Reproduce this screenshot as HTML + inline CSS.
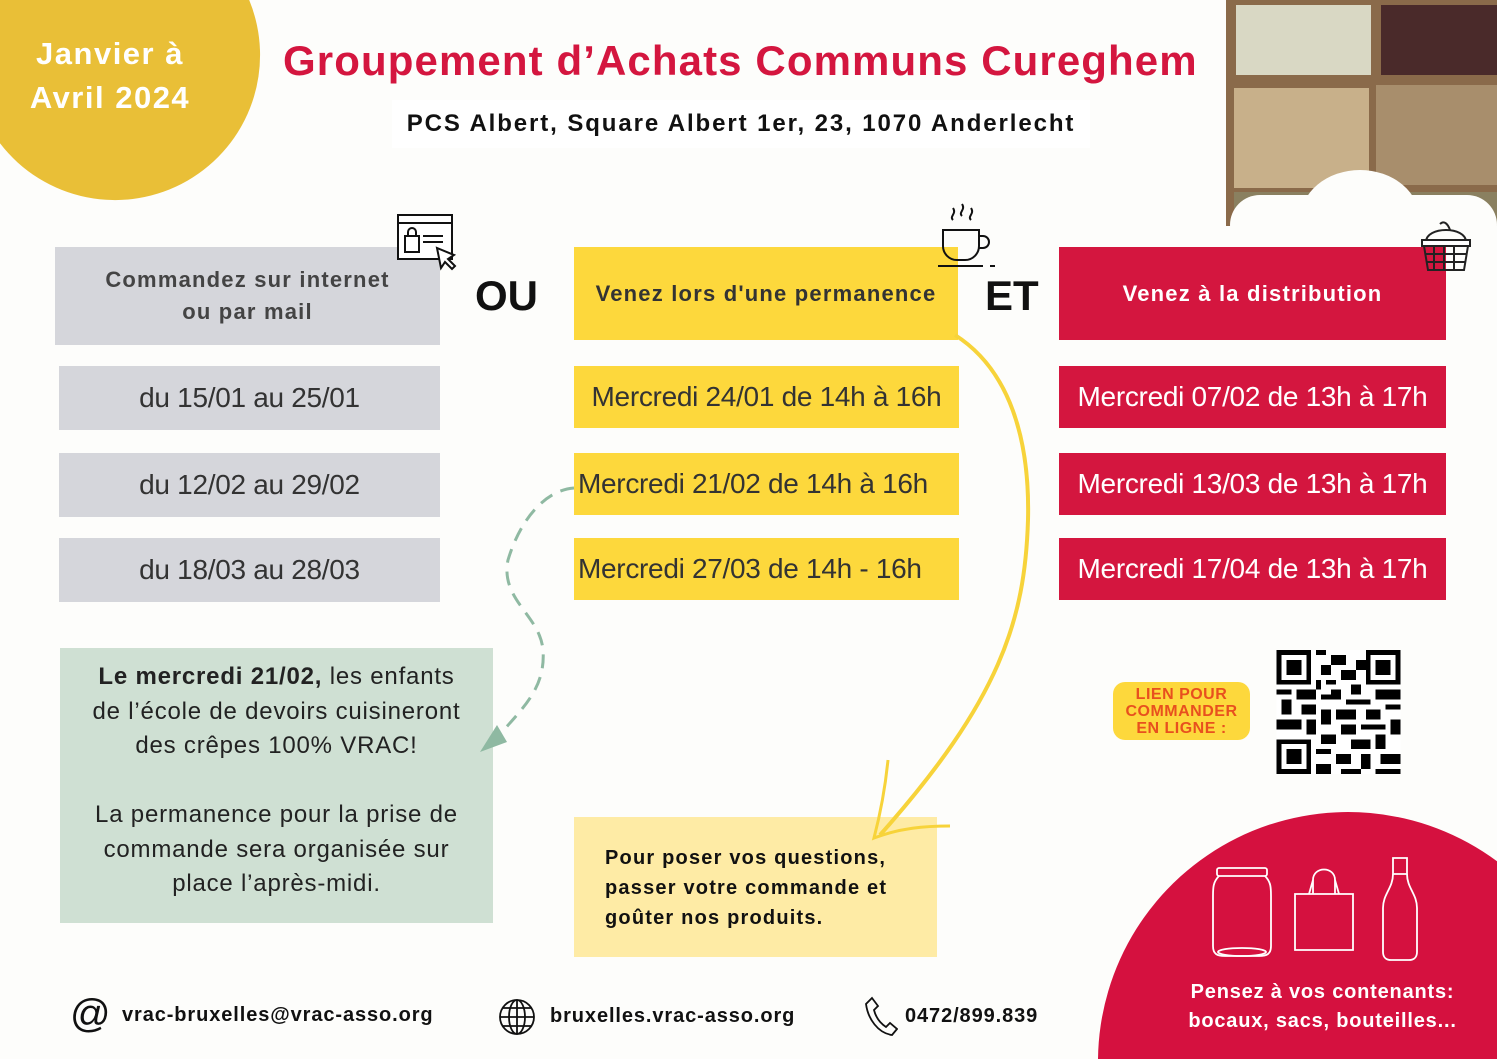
<!DOCTYPE html>
<html style="width:1497px;height:1059px;overflow:hidden"><head><meta charset="utf-8"><style>
*{margin:0;padding:0;box-sizing:border-box}
body{width:1497px;height:1059px;overflow:hidden;background:#fdfdfb;position:relative;font-family:"Liberation Sans",sans-serif}
#w{position:absolute;left:0;top:0;width:1497px;height:1059px;overflow:hidden}
.a{position:absolute}
.box{position:absolute;display:flex;align-items:center;justify-content:center;text-align:center}
.d{font-size:28px;letter-spacing:-0.3px;color:#333}
.grey{background:#d5d6db}
.yel{background:#fdd83c}
.red{background:#d4163f;color:#fff}
.b{font-weight:bold}
</style></head><body><div id="w">
<svg class="a" style="left:0;top:0" width="262" height="202"><path d="M0 0L249.2 0A145 145 0 0 1 0 143.3Z" fill="#e9bf37"/></svg>
<div class="a b" style="left:0;top:32px;width:220px;text-align:center;color:#fff;font-size:31px;line-height:44px;letter-spacing:1.5px">Janvier à<br>Avril 2024</div>
<div class="a b" style="left:283px;top:37px;font-size:42px;letter-spacing:1.1px;color:#d4163f;white-space:nowrap">Groupement d’Achats Communs Cureghem</div>
<div class="box b" style="left:392px;top:100px;width:698px;height:48px;background:#fff;font-size:24px;letter-spacing:1.9px;color:#111;white-space:nowrap">PCS Albert, Square Albert 1er, 23, 1070 Anderlecht</div>

<!-- photo -->
<div class="a" style="left:1226px;top:0;width:271px;height:226px;background:#8a6a4a;overflow:hidden">
 <div class="a" style="left:10px;top:5px;width:135px;height:70px;background:#d9d8c4"></div>
 <div class="a" style="left:155px;top:5px;width:116px;height:70px;background:#4a2a2a"></div>
 <div class="a" style="left:8px;top:88px;width:135px;height:100px;background:#c8b08a"></div>
 <div class="a" style="left:150px;top:85px;width:121px;height:100px;background:#a88e6c"></div>
 <div class="a" style="left:8px;top:192px;width:263px;height:34px;background:#8a8060"></div>
</div>
<div class="a" style="left:1300px;top:170px;width:120px;height:100px;border-radius:50%;background:#fdfdfb"></div>
<div class="a" style="left:1230px;top:195px;width:267px;height:60px;border-radius:40px;background:#fdfdfb"></div>

<!-- column 1 -->
<div class="box grey b" style="left:55px;top:247px;width:385px;height:98px;font-size:22px;letter-spacing:1.2px;color:#444;line-height:32px">Commandez sur internet<br>ou par mail</div>
<div class="box grey d" style="left:59px;top:366px;width:381px;height:64px">du 15/01 au 25/01</div>
<div class="box grey d" style="left:59px;top:453px;width:381px;height:64px">du 12/02 au 29/02</div>
<div class="box grey d" style="left:59px;top:538px;width:381px;height:64px">du 18/03 au 28/03</div>
<svg class="a" style="left:395px;top:212px" width="65" height="62" viewBox="0 0 65 62" fill="none" stroke="#111" stroke-width="2"><rect x="3" y="3" width="54" height="44" fill="#fff"/><line x1="3" y1="11" x2="57" y2="11"/><rect x="10" y="24" width="14" height="16"/><path d="M13 24v-4a4 4 0 0 1 8 0v4"/><line x1="28" y1="24" x2="48" y2="24"/><line x1="28" y1="30" x2="48" y2="30"/><path d="M42 36l4 20 4-6 7 7 3-3-7-7 6-4z" fill="#fff"/></svg>

<div class="a b" style="left:475px;top:272px;font-size:42px;color:#111">OU</div>
<div class="a b" style="left:985px;top:272px;font-size:42px;color:#111">ET</div>

<!-- column 2 -->
<div class="box yel b" style="left:574px;top:247px;width:384px;height:93px;font-size:22px;letter-spacing:1.2px;color:#333;white-space:nowrap">Venez lors d'une permanence</div>
<div class="box yel d" style="left:574px;top:366px;width:385px;height:62px">Mercredi 24/01 de 14h à 16h</div>
<div class="box yel d" style="left:574px;top:453px;width:385px;height:62px;justify-content:flex-start;padding-left:4px">Mercredi 21/02 de 14h à 16h</div>
<div class="box yel d" style="left:574px;top:538px;width:385px;height:62px;justify-content:flex-start;padding-left:4px">Mercredi 27/03 de 14h - 16h</div>
<svg class="a" style="left:935px;top:198px" width="70" height="72" viewBox="0 0 70 72" fill="none" stroke="#111" stroke-width="2"><path d="M18 22c-4-4 4-6 0-12M27 18c-4-4 4-6 0-12M36 22c-4-4 4-6 0-12"/><path d="M8 32h36v16a14 14 0 0 1-14 14h-8a14 14 0 0 1-14-14z"/><path d="M44 38h4a6 6 0 0 1 0 12h-4"/><line x1="3" y1="68" x2="48" y2="68"/><line x1="55" y1="68" x2="60" y2="68"/></svg>
<div class="a yel" style="left:574px;top:817px;width:363px;height:140px;background:#feeba5"></div>
<div class="a b" style="left:605px;top:843px;font-size:20px;letter-spacing:1.2px;line-height:30px;color:#111;white-space:nowrap">Pour poser vos questions,<br>passer votre commande et<br>goûter nos produits.</div>

<!-- column 3 -->
<div class="box red b" style="left:1059px;top:247px;width:387px;height:93px;font-size:22px;letter-spacing:1.2px">Venez à la distribution</div>
<div class="box red d" style="left:1059px;top:366px;width:387px;height:62px;color:#fff">Mercredi 07/02 de 13h à 17h</div>
<div class="box red d" style="left:1059px;top:453px;width:387px;height:62px;color:#fff">Mercredi 13/03 de 13h à 17h</div>
<div class="box red d" style="left:1059px;top:538px;width:387px;height:62px;color:#fff">Mercredi 17/04 de 13h à 17h</div>
<svg class="a" style="left:1418px;top:212px" width="56" height="62" viewBox="0 0 56 62" fill="none" stroke="#222" stroke-width="2"><path d="M8 30c0-16 40-16 40 0"/><path d="M22 12c4-4 8 0 10 6"/><rect x="4" y="28" width="48" height="6" fill="#fff"/><path d="M6 34l4 24h36l4-24"/><path d="M16 34v24M26 34v24M36 34v24M8 42h40M9 50h38"/></svg>

<!-- green box -->
<div class="a" style="left:60px;top:648px;width:433px;height:275px;background:#cfe0d3"></div>
<div class="a" style="left:50px;top:660px;width:453px;text-align:center;font-size:24px;letter-spacing:0.8px;line-height:34.5px;color:#222;white-space:nowrap">
<span class="b">Le mercredi 21/02,</span> les enfants<br>de l’école de devoirs cuisineront<br>des crêpes 100% VRAC!<br><br>La permanence pour la prise de<br>commande sera organisée sur<br>place l’après-midi.</div>

<!-- arrows -->
<svg class="a" style="left:0;top:0" width="1497" height="1059" fill="none">
<path d="M574 488C545 490 520 520 508 560C500 600 540 615 543 650C546 690 520 710 497 738" stroke="#8fb9a2" stroke-width="3" stroke-dasharray="14 9"/>
<path d="M480 752L497 725L507 742Z" fill="#8fb9a2"/>
<path d="M955 335C1010 370 1030 440 1028 520C1025 620 1000 700 880 835" stroke="#f7d33a" stroke-width="4"/>
<path d="M888 760C885 790 880 815 874 838C900 828 925 826 950 826" stroke="#f7d33a" stroke-width="3"/>
</svg>

<!-- QR -->
<div class="box b" style="left:1113px;top:682px;width:137px;height:58px;background:#fdd83c;border-radius:12px;color:#e8501e;font-size:16px;line-height:17px;letter-spacing:0.5px">LIEN POUR<br>COMMANDER<br>EN LIGNE :</div>
<svg class="a" style="left:1276px;top:650px" width="125" height="124" viewBox="0 0 25 25" shape-rendering="crispEdges">
<rect width="25" height="25" fill="#fff"/>
<g fill="#000">
<path d="M0 0h7v7h-7zM1 1v5h5v-5zM2 2h3v3h-3z" fill-rule="evenodd"/>
<path d="M18 0h7v7h-7zM19 1v5h5v-5zM20 2h3v3h-3z" fill-rule="evenodd"/>
<path d="M0 18h7v7h-7zM1 19v5h5v-5zM2 20h3v3h-3z" fill-rule="evenodd"/>
<path d="M8 0h2v1h-2zM11 1h3v2h-3zM9 3h2v2h-2zM13 4h3v2h-3zM8 6h1v2h-1zM10 6h2v1h-2zM15 7h2v2h-2zM0 8h3v1h-3zM4 8h4v2h-4zM9 9h4v1h-4zM14 10h5v1h-5zM20 8h5v2h-5zM1 10h2v3h-2zM5 11h3v2h-3zM9 12h2v3h-2zM12 12h4v2h-4zM18 12h3v2h-3zM22 11h3v1h-3zM0 14h5v2h-5zM6 14h2v3h-2zM13 15h3v2h-3zM17 15h5v1h-5zM23 14h2v3h-2zM9 17h3v2h-3zM15 18h4v2h-4zM20 17h2v3h-2zM8 20h3v1h-3zM12 21h3v2h-3zM17 21h2v3h-2zM21 21h4v2h-4zM8 23h3v2h-3zM13 24h4v1h-4zM20 24h5v1h-5zM16 2h2v2h-2zM11 8h2v1h-2z"/>
</g></svg>

<!-- red circle -->
<svg class="a" style="left:1098px;top:812px" width="399" height="247"><path d="M0 247A250 250 0 0 1 399 49.3L399 247Z" fill="#d5113f"/></svg>
<svg class="a" style="left:1205px;top:852px" width="220" height="112" viewBox="0 0 220 112" fill="none" stroke="#fff" stroke-width="1.8">
<rect x="12" y="16" width="50" height="8" rx="2"/><path d="M14 24c-6 6-6 12-6 20v50c0 8 4 10 12 10h34c8 0 12-2 12-10v-50c0-8 0-14-6-20"/><ellipse cx="37" cy="100" rx="24" ry="4"/>
<path d="M90 42h58v56h-58z"/><path d="M108 42v-14c0-14 22-14 22 0v14M104 42l4-14M134 42l-4-14"/>
<path d="M188 6h14v16h-14z"/><path d="M188 22c0 14-10 20-10 34v44c0 6 4 8 8 8h18c4 0 8-2 8-8v-44c0-14-10-20-10-34"/>
</svg>
<div class="a b" style="left:1150px;top:978px;width:345px;text-align:center;color:#fff;font-size:20px;letter-spacing:0.8px;line-height:29px;white-space:nowrap">Pensez à vos contenants:<br>bocaux, sacs, bouteilles...</div>

<!-- footer -->
<div class="a" style="left:70px;top:992px;font-size:40px;color:#111;line-height:44px">@</div>
<div class="a b" style="left:122px;top:1004px;font-size:20px;letter-spacing:0.9px;color:#111;white-space:nowrap">vrac-bruxelles@vrac-asso.org</div>
<svg class="a" style="left:498px;top:998px" width="38" height="38" viewBox="0 0 38 38" fill="none" stroke="#111" stroke-width="1.8"><circle cx="19" cy="19" r="17"/><ellipse cx="19" cy="19" rx="8" ry="17"/><path d="M2 19h34M5 10h28M5 28h28M19 2v34"/></svg>
<div class="a b" style="left:550px;top:1005px;font-size:20px;letter-spacing:0.9px;color:#111;white-space:nowrap">bruxelles.vrac-asso.org</div>
<svg class="a" style="left:864px;top:994px" width="34" height="42" viewBox="0 0 34 42" fill="none" stroke="#111" stroke-width="1.8"><path d="M8 4l6 8-4 4c2 8 6 13 12 17l4-4 7 6-5 6c-14-2-24-16-26-31z"/></svg>
<div class="a b" style="left:905px;top:1005px;font-size:20px;letter-spacing:0.9px;color:#111">0472/899.839</div>
</div></body></html>
